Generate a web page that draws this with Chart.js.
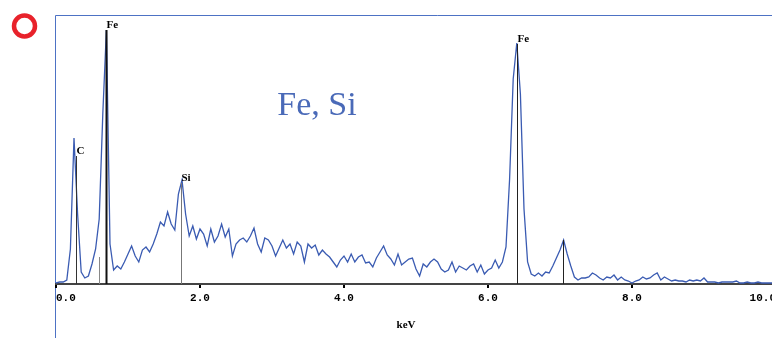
<!DOCTYPE html>
<html>
<head>
<meta charset="utf-8">
<script src="https://cdn.jsdelivr.net/npm/chart.js@4.4.1/dist/chart.umd.min.js"></script>
<style>
  html, body { margin: 0; padding: 0; background: #fff; overflow: hidden; }
  #wrap { width: 820px; height: 338px; }
</style>
</head>
<body>
<div id="wrap"><canvas id="chart-eds" width="820" height="338"></canvas></div>
<script>
// spectrum, 0 - 10 keV in 0.05 keV channels
const energyStep = 0.05;
const counts = [
  1, 2, 2, 4, 35, 146, 70, 12, 6, 8,
  20, 35, 65, 170, 254, 40, 14, 18, 15, 22,
  30, 38, 28, 22, 34, 37, 32, 40, 50, 62,
  58, 72, 60, 54, 90, 104, 70, 48, 58, 45,
  55, 50, 38, 55, 42, 48, 60, 47, 55, 28,
  40, 44, 46, 42, 48, 56, 40, 32, 46, 44,
  38, 28, 36, 44, 36, 40, 30, 42, 38, 22,
  40, 36, 39, 29, 34, 30, 27, 22, 17, 24,
  28, 22, 30, 22, 27, 29, 21, 22, 17, 26,
  32, 38, 29, 25, 19, 30, 19, 22, 25, 26,
  15, 8, 20, 17, 22, 25, 22, 15, 12, 14,
  22, 12, 18, 16, 14, 18, 20, 12, 19, 10,
  14, 16, 24, 16, 22, 37, 105, 205, 241, 190,
  75, 22, 10, 8, 11, 8, 12, 11, 18, 26,
  34, 44, 30, 18, 7, 4, 6, 6, 7, 11,
  9, 6, 4, 7, 6, 9, 4, 7, 4, 3,
  1, 3, 4, 7, 5, 6, 9, 11, 4, 7,
  5, 3, 4, 3, 3, 2, 4, 3, 4, 3,
  6, 2, 2, 2, 1, 2, 2, 2, 2, 3,
  1, 1, 2, 1, 1, 2, 1, 1, 1, 1,
  1
];
const energies = counts.map((c, i) => +(i * energyStep).toFixed(2));

// element marker lines
const markerEnergy = [0.28, 0.60, 0.695, 1.74, 6.40, 7.04];
const markerHeight = [128, 27, 254, 101, 240, 44];
const markerLabel = ['C', '', 'Fe', 'Si', 'Fe', ''];
const markerColor = ['#333', '#888', '#111', '#777', '#222', '#222'];

const xTicks = [0, 2, 4, 6, 8, 10];

const decorations = {
  id: 'decorations',
  beforeDraw(chart) {
    const ctx = chart.ctx;
    ctx.save();
    // frame
    ctx.strokeStyle = '#4d72c4';
    ctx.lineWidth = 1;
    ctx.beginPath();
    ctx.moveTo(55.5, 338);
    ctx.lineTo(55.5, 15.5);
    ctx.lineTo(820, 15.5);
    ctx.stroke();
    // red ring
    ctx.strokeStyle = '#e8222b';
    ctx.lineWidth = 4.5;
    ctx.beginPath();
    ctx.arc(24.5, 26, 10.5, 0, Math.PI * 2);
    ctx.stroke();
    ctx.restore();
  },
  afterDatasetsDraw(chart) {
    const ctx = chart.ctx;
    const x = chart.scales.x, y = chart.scales.y;
    ctx.save();
    markerEnergy.forEach((e, i) => {
      const px = Math.round(x.getPixelForValue(e)) + 0.5;
      const top = y.getPixelForValue(markerHeight[i]);
      ctx.strokeStyle = markerColor[i];
      ctx.lineWidth = i === 2 ? 2 : 1;
      ctx.beginPath();
      ctx.moveTo(px, y.getPixelForValue(0));
      ctx.lineTo(px, top);
      ctx.stroke();
      if (markerLabel[i]) {
        ctx.fillStyle = '#000';
        ctx.font = 'bold 11px "Liberation Serif"';
        ctx.textBaseline = 'alphabetic';
        ctx.textAlign = 'left';
        ctx.fillText(markerLabel[i], px, top - 2);
      }
    });
    // sample label
    ctx.fillStyle = '#4a6ab8';
    ctx.font = '34px "Liberation Serif"';
    ctx.textAlign = 'center';
    ctx.textBaseline = 'middle';
    ctx.fillText('Fe, Si', 317, 106);
    // axis title
    ctx.fillStyle = '#000';
    ctx.font = 'bold 11px "Liberation Serif"';
    ctx.fillText('keV', 406, 325);
    ctx.restore();
  }
};

const chartEds = document.getElementById('chart-eds');

new Chart(chartEds, {
  type: 'line',
  data: {
    datasets: [{
      label: 'Fe, Si',
      data: energies.map((e, i) => ({ x: e, y: counts[i] })),
      borderColor: '#3a5bb2',
      borderWidth: 1.3,
      pointRadius: 0,
      tension: 0,
      fill: false
    }]
  },
  options: {
    responsive: false,
    animation: false,
    devicePixelRatio: 1,
    layout: { padding: { left: 56, top: 15, right: 44, bottom: 0 } },
    plugins: { legend: { display: false }, tooltip: { enabled: false } },
    scales: {
      x: {
        type: 'linear',
        min: 0,
        max: 10,
        afterFit: (scale) => { scale.height = 54; },
        afterBuildTicks: (scale) => { scale.ticks = xTicks.map(v => ({ value: v })); },
        grid: { drawOnChartArea: false, drawTicks: true, tickLength: 4, color: '#000', lineWidth: 2 },
        border: { display: true, color: '#444', width: 2 },
        ticks: {
          align: 'inner',
          maxRotation: 0,
          padding: 4,
          color: '#000',
          font: { family: 'Liberation Mono', size: 11, weight: 'bold' },
          callback: (v) => Number(v).toFixed(1)
        }
      },
      y: {
        display: false,
        min: 0,
        max: 269
      }
    }
  },
  plugins: [decorations]
});
</script>
</body>
</html>
